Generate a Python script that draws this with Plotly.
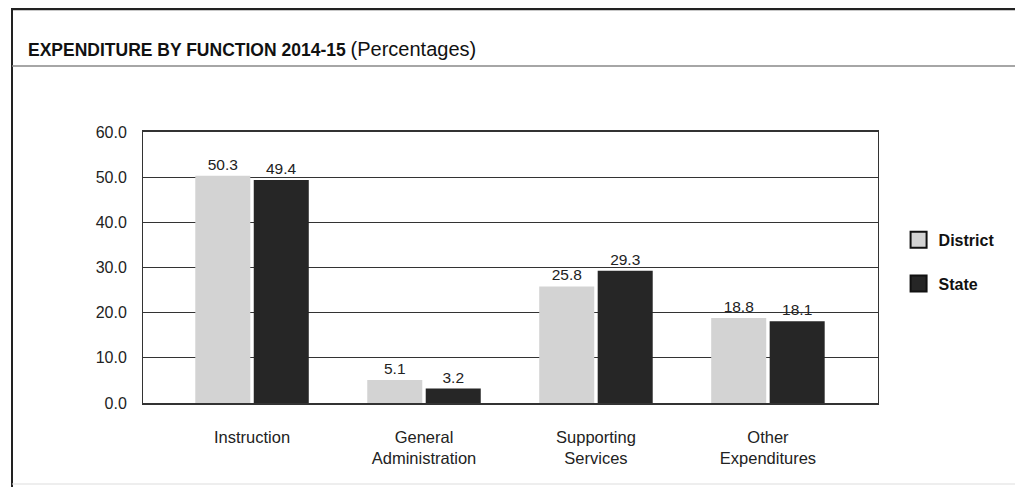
import plotly.graph_objects as go

categories = ["Instruction", "General<br>Administration", "Supporting<br>Services", "Other<br>Expenditures"]
district = [50.3, 5.1, 25.8, 18.8]
state = [49.4, 3.2, 29.3, 18.1]
y_ticks = [0, 10, 20, 30, 40, 50, 60]
y_tick_labels = ["0.0", "10.0", "20.0", "30.0", "40.0", "50.0", "60.0"]

FONT = "Liberation Sans, Arial, sans-serif"
LIGHT = "#d3d3d3"
DARK = "#262626"

# The page body has an 8px margin, so the figure is 8px smaller than the window.
W, H = 1015, 479
PL, PT, PR, PB = 135, 124, 145, 84
PW = W - PL - PR
PH = H - PT - PB

def px(xf):  # figure pixel x -> paper
    return (xf - PL) / PW

def py(yf):  # figure pixel y -> paper
    return (H - PB - yf) / PH

fig = go.Figure()
fig.add_trace(go.Bar(
    x=categories, y=district, name="District", showlegend=False,
    marker=dict(color=LIGHT, line=dict(width=0)),
    width=0.32, offset=-0.33,
    text=[f"{v:.1f}" for v in district], textposition="outside",
    textfont=dict(size=15.5, color="#222", family=FONT), cliponaxis=False,
))
fig.add_trace(go.Bar(
    x=categories, y=state, name="State", showlegend=False,
    marker=dict(color=DARK, line=dict(width=0)),
    width=0.32, offset=0.01,
    text=[f"{v:.1f}" for v in state], textposition="outside",
    textfont=dict(size=15.5, color="#222", family=FONT), cliponaxis=False,
))
# legend entries
fig.add_trace(go.Scatter(x=[None], y=[None], mode="markers", name="<b>District</b>", legendgroup="d",
                         marker=dict(symbol="square", size=16, color=LIGHT, line=dict(color="#111", width=2))))
fig.add_trace(go.Scatter(x=[None], y=[None], mode="markers", name="<b>State</b>", legendgroup="s",
                         marker=dict(symbol="square", size=16, color=DARK, line=dict(color="#111", width=2))))

fig.update_layout(
    width=W, height=H,
    margin=dict(l=PL, r=PR, t=PT, b=PB),
    paper_bgcolor="white", plot_bgcolor="white",
    font=dict(family=FONT, size=16, color="#222"),
    barmode="overlay",
    title=dict(text="<b>EXPENDITURE BY FUNCTION 2014-15</b> <span style='font-size:20px'>(Percentages)</span>",
               x=20/W, xanchor="left", xref="container",
               y=1-42/H, yanchor="middle", yref="container",
               font=dict(size=17.5, color="#111", family=FONT)),
    legend=dict(x=1.028, xanchor="left", y=0.665, yanchor="top",
                font=dict(size=16, color="#111", family=FONT),
                tracegroupgap=20, itemsizing="trace",
                bgcolor="rgba(0,0,0,0)"),
    showlegend=True,
)
fig.update_xaxes(range=[-0.634, 3.64], showgrid=False, ticks="", showline=True,
                 linecolor="#333", linewidth=1.5, mirror=True, ticklabelstandoff=18,
                 tickfont=dict(size=16.5, color="#222", family=FONT), fixedrange=True)
fig.update_yaxes(range=[0, 60], tickvals=y_ticks, ticktext=y_tick_labels,
                 showgrid=True, gridcolor="#333", gridwidth=1, ticks="",
                 showline=True, linecolor="#333", linewidth=1, mirror=True,
                 zeroline=False, ticklabelstandoff=12,
                 tickfont=dict(size=16, color="#222", family=FONT), fixedrange=True)

# frame lines of the report box
fig.add_shape(type="line", xref="paper", yref="paper", x0=px(3), x1=px(W),
              y0=py(1), y1=py(1), line=dict(color="#222", width=2.5))
fig.add_shape(type="line", xref="paper", yref="paper", x0=px(4), x1=px(4),
              y0=py(0), y1=py(H), line=dict(color="#222", width=2))
fig.add_shape(type="line", xref="paper", yref="paper", x0=px(4), x1=px(W),
              y0=py(58), y1=py(58), line=dict(color="#888", width=1.5))
fig.add_shape(type="line", xref="paper", yref="paper", x0=px(4), x1=px(W),
              y0=py(476), y1=py(476), line=dict(color="#ddd", width=1))

fig.write_html("out.html")
